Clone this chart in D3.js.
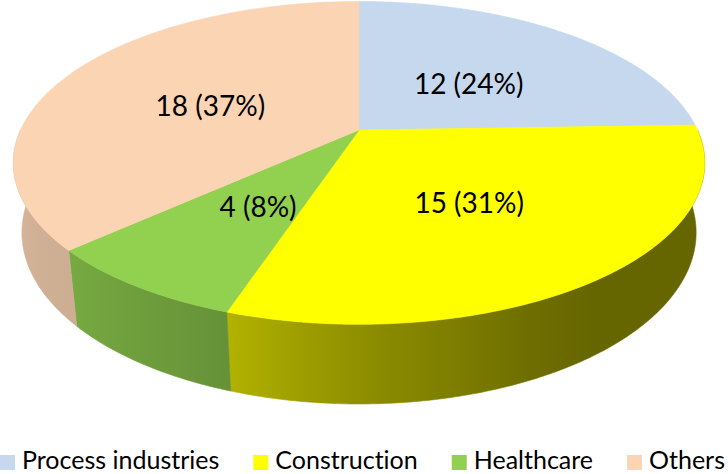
<!DOCTYPE html>
<html>
<head>
<meta charset="utf-8">
<script src="https://cdn.jsdelivr.net/npm/d3@7"></script>
<style>
  html, body { margin: 0; padding: 0; background: #fff; }
  svg { display: block; font-family: Lato, "Open Sans", sans-serif; font-variant-ligatures: none; }
</style>
</head>
<body>
<div id="canvas"></div>
<script>
// data
var categories = ['Process industries', 'Construction', 'Healthcare', 'Others'];
var values = [12, 15, 4, 18];
var sliceColors = ['#c5d8ee', '#ffff00', '#92d050', '#fbd4b4'];

var W = 728, H = 474;

var svg = d3.select('#canvas').append('svg')
    .attr('width', W).attr('height', H);
var defs = svg.append('defs');

var color = d3.scaleOrdinal().domain(categories).range(sliceColors);

// perspective camera for the tilted disc
var cam = {cx: 359, cy: 130, f: 1478, D: 4.367, tilt: 27.2 * Math.PI / 180, depth: 0.233};
var ct = Math.cos(cam.tilt), st = Math.sin(cam.tilt);

function proj(theta, r, depth) {
    var u = r * Math.sin(theta), v = r * Math.cos(theta);
    var yc = -v * st + depth * ct;
    var z = cam.D + v * ct + depth * st;
    return [cam.cx + cam.f * u / z, cam.cy + cam.f * yc / z];
}

function arcPoints(a0, a1, depth) {
    var n = Math.max(2, Math.ceil(Math.abs(a1 - a0) / 0.01));
    return d3.range(n + 1).map(function(i){
        return proj(a0 + (a1 - a0) * i / n, 1, depth);
    });
}

// shade of the side wall, by angle (deg, clockwise from top)
var shade = d3.scaleLinear()
    .domain([90, 150, 180, 200, 228, 270])
    .range([0.40, 0.40, 0.56, 0.71, 0.82, 0.87])
    .clamp(true);

function darker(c, k) {
    var rgb = d3.rgb(c);
    return d3.rgb(rgb.r * k, rgb.g * k, rgb.b * k).formatHex();
}

var total = d3.sum(values);
var pie = d3.pie().sort(null).value(function(d){ return d.value; });
var arcs = pie(categories.map(function(c, i){ return {name: c, value: values[i]}; }));

var line = d3.line();

// side walls (front half only)
var walls = svg.append('g').attr('class', 'walls');
arcs.forEach(function(d, i){
    var a0 = Math.max(d.startAngle, Math.PI / 2),
        a1 = Math.min(d.endAngle, 3 * Math.PI / 2);
    if (a1 <= a0) return;
    var top = arcPoints(a0, a1, 0),
        bottom = arcPoints(a1, a0, cam.depth);

    // gradient along x from the angle shading
    var xs = top.map(function(p){ return p[0]; });
    var xMin = d3.min(xs), xMax = d3.max(xs);
    var gid = 'wall' + i;
    var grad = defs.append('linearGradient').attr('id', gid)
        .attr('gradientUnits', 'userSpaceOnUse')
        .attr('x1', xMin).attr('x2', xMax).attr('y1', 0).attr('y2', 0);
    var stops = d3.range(0, 11).map(function(k){
        var a = a1 - (a1 - a0) * k / 10;
        var x = proj(a, 1, 0)[0];
        return {off: (x - xMin) / (xMax - xMin || 1), c: darker(color(d.data.name), shade(a * 180 / Math.PI))};
    });
    stops.sort(function(a, b){ return a.off - b.off; });
    stops.forEach(function(s){
        grad.append('stop').attr('offset', s.off).attr('stop-color', s.c);
    });

    walls.append('path')
        .attr('d', line(top.concat(bottom)) + 'Z')
        .attr('fill', 'url(#' + gid + ')')
        .attr('stroke', 'url(#' + gid + ')')
        .attr('stroke-width', 0.6);
});

// top faces
var tops = svg.append('g').attr('class', 'tops');
arcs.forEach(function(d){
    var pts = [proj(0, 0, 0)].concat(arcPoints(d.startAngle, d.endAngle, 0));
    tops.append('path')
        .attr('d', line(pts) + 'Z')
        .attr('fill', color(d.data.name))
        .attr('stroke', color(d.data.name))
        .attr('stroke-width', 0.6);
});

// value labels
var labels = svg.append('g').attr('class', 'labels');
arcs.forEach(function(d){
    var mid = (d.startAngle + d.endAngle) / 2;
    var p = proj(mid, 0.5, 0);
    labels.append('text')
        .attr('x', p[0]).attr('y', p[1] + 5)
        .attr('text-anchor', 'middle')
        .attr('dominant-baseline', 'central')
        .style('font-size', '28px')
        .style('fill', '#000')
        .text(d.data.value + ' (' + Math.round(d.data.value / total * 100) + '%)');
});

// legend
var legend = svg.append('g').attr('class', 'legend');
var lx = 0;
categories.forEach(function(c){
    legend.append('rect')
        .attr('x', lx).attr('y', 455)
        .attr('width', 15).attr('height', 15)
        .attr('fill', color(c));
    var t = legend.append('text')
        .attr('x', lx + 22).attr('y', 469)
        .style('font-size', '25px')
        .style('fill', '#000')
        .text(c);
    lx = lx + 22 + t.node().getComputedTextLength() + 34;
});
</script>
</body>
</html>
